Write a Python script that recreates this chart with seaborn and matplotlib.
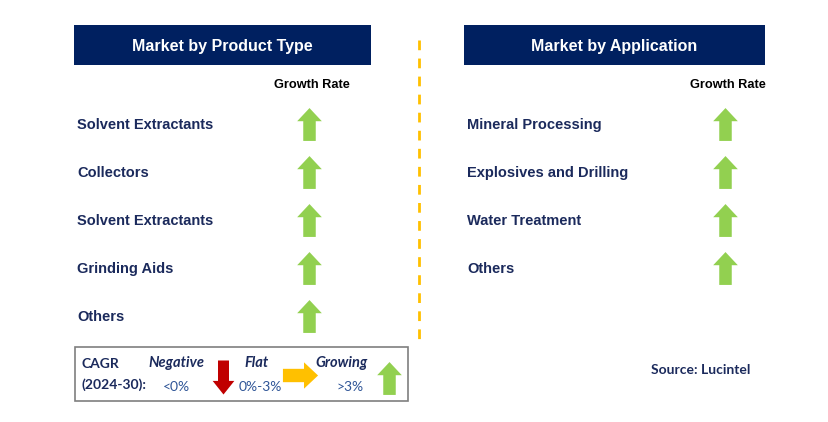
"""
Growth-rate summary infographic: market by product type / application.
"""
import pandas as pd
import numpy as np
import matplotlib
matplotlib.use('Agg')
import matplotlib.pyplot as plt
from matplotlib.path import Path
from matplotlib.patches import Rectangle
import seaborn as sns

# ---- data ----
product_types = ['Solvent Extractants', 'Collectors', 'Solvent Extractants',
                 'Grinding Aids', 'Others']
product_growth = ['Growing', 'Growing', 'Growing', 'Growing', 'Growing']
applications = ['Mineral Processing', 'Explosives and Drilling',
                'Water Treatment', 'Others']
application_growth = ['Growing', 'Growing', 'Growing', 'Growing']
legend_labels = ['Negative', 'Flat', 'Growing']
legend_ranges = ['<0%', '0%-3%', '>3%']
source_text = 'Source: Lucintel'

NAVY = '#002060'
TEXT_NAVY = '#1B2A5C'
LEG_BLUE = '#2F5597'
COLORS = {'Growing': '#92D050', 'Flat': '#FFC000', 'Negative': '#C00000'}
LEG_FONT = ['Lato', 'DejaVu Sans']

# arrow marker (points up); rotated for the other states
up = np.array([[-0.38, -1], [0.38, -1], [0.38, 0.2], [0.75, 0.2],
               [0, 1], [-0.75, 0.2], [-0.38, 0.2], [-0.38, -1]])
MARKERS = {
    'Growing': Path(up),
    'Negative': Path(up * [0.85, -1]),
    'Flat': Path(np.column_stack([up[:, 1], up[:, 0]])),
}

sns.set_theme(style='white')
plt.rcParams['font.family'] = ['Liberation Sans', 'DejaVu Sans']

fig = plt.figure(figsize=(8.29, 4.22), dpi=100)
ax = fig.add_axes([0, 0, 1, 1])
ax.set_xlim(0, 829)
ax.set_ylim(422, 0)
ax.axis('off')

row_y0, row_step = 124, 48
panels = [
    ('Market by Product Type', product_types, product_growth, 74, 371, 77, 309),
    ('Market by Application', applications, application_growth, 464, 765, 467, 725),
]
for title, cats, growth, x0, x1, lab_x, arr_x in panels:
    ax.add_patch(Rectangle((x0, 25), x1 - x0, 40, color=NAVY, lw=0))
    ax.text((x0 + x1) / 2, 46, title, color='white', fontsize=11.5,
            fontweight='bold', ha='center', va='center')
    ax.text(arr_x + 3, 85, 'Growth Rate', color='black', fontsize=9.2,
            fontweight='bold', ha='center', va='center')
    df = pd.DataFrame({'cat': cats, 'growth': growth})
    df['y'] = row_y0 + row_step * np.arange(len(df))
    df['x'] = arr_x
    for _, r in df.iterrows():
        ax.text(lab_x, r['y'] + 1, r['cat'], color=TEXT_NAVY, fontsize=10.5,
                fontweight='bold', ha='left', va='center')
    for g, sub in df.groupby('growth'):
        sns.scatterplot(data=sub, x='x', y='y', ax=ax, marker=MARKERS[g],
                        s=560, color=COLORS[g], linewidth=0, legend=False)

# divider
ax.plot([419, 419], [40, 342], color='#FFC000', lw=2, ls=(0, (3.5, 3)))

# legend box
ax.add_patch(Rectangle((75, 347), 333, 54, fill=False, ec='#7F7F7F', lw=1.2))
ax.text(82, 364, 'CAGR', color=TEXT_NAVY, fontsize=10, fontweight='bold',
        family=LEG_FONT, va='center')
ax.text(82, 385, '(2024-30):', color=TEXT_NAVY, fontsize=10, fontweight='bold',
        family=LEG_FONT, va='center')
leg = pd.DataFrame({'growth': ['Negative', 'Flat', 'Growing'],
                    'label': legend_labels, 'rng': legend_ranges,
                    'tx': [176, 257, 342], 'rx': [176, 260, 350],
                    'ax': [223, 300, 389], 'ay': [377, 375, 378]})
for _, r in leg.iterrows():
    ax.text(r['tx'], 363, r['label'], color=TEXT_NAVY, fontsize=10.5,
            fontweight='bold', style='italic', family=LEG_FONT,
            ha='center', va='center')
    ax.text(r['rx'], 387, r['rng'], color=LEG_BLUE, fontsize=10,
            family=LEG_FONT, ha='center', va='center')
    s = {'Negative': 600, 'Flat': 640, 'Growing': 560}[r['growth']]
    sns.scatterplot(x=[r['ax']], y=[r['ay']], ax=ax, marker=MARKERS[r['growth']],
                    s=s, color=COLORS[r['growth']], linewidth=0, legend=False)

ax.text(701, 370, source_text, color=TEXT_NAVY, fontsize=10, fontweight='bold',
        ha='center', va='center', family=LEG_FONT)

fig.savefig('out.png', dpi=100)
